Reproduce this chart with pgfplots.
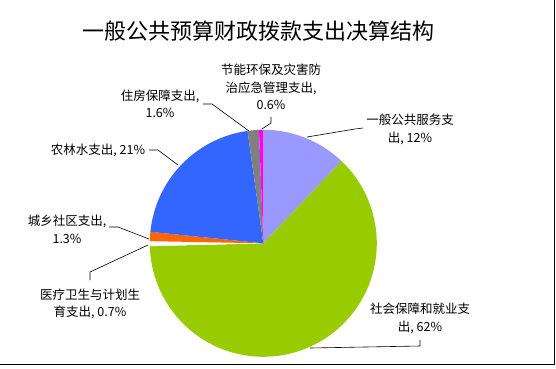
\documentclass[border=0pt]{standalone}
\usepackage{pgfplots}
\pgfplotsset{compat=1.18}
\usepackage{fontspec}
\setmainfont{Noto Sans CJK SC}
\definecolor{cPurple}{HTML}{9999FF}
\definecolor{cGreen}{HTML}{99CC00}
\definecolor{cWhite}{HTML}{FFFFFF}
\definecolor{cOrange}{HTML}{FF6600}
\definecolor{cBlue}{HTML}{3366FF}
\definecolor{cGray}{HTML}{808080}
\definecolor{cMag}{HTML}{FF00FF}
% pie geometry (picture units = pt, y downward)
\def\cx{263.3}\def\cy{243.3}\def\rr{113.5}
\def\total{99.2}
\gdef\cum{0}
\newcommand\pieslice[2]{%
  \pgfmathsetmacro\sa{-90+\cum/\total*360}%
  \pgfmathsetmacro\sb{-90+(\cum+#1)/\total*360}%
  \edef\temp{\noexpand\addplot[fill=#2, draw=none, domain=\sa:\sb, samples=80]
    ({\cx+\rr*cos(x)},{\cy+\rr*sin(x)}) -- (axis cs:\cx,\cy) -- cycle;}%
  \temp
  \pgfmathsetmacro\newcum{\cum+#1}%
  \xdef\cum{\newcum}%
}
\begin{document}
\begin{tikzpicture}
\begin{axis}[
  width=556pt, height=368pt, scale only axis,
  xmin=0, xmax=556, ymin=0, ymax=368, y dir=reverse,
  hide axis, clip=false,
]
\pieslice{12}{cPurple}
\pieslice{62}{cGreen}
\pieslice{0.7}{cWhite}
\pieslice{1.3}{cOrange}
\pieslice{21}{cBlue}
\pieslice{1.6}{cGray}
\pieslice{0.6}{cMag}
% leader lines
\addplot[black, line width=0.6pt] coordinates {(262,129) (271,123) (271,117)};
\addplot[black, line width=0.6pt] coordinates {(203,104) (212,104) (249,131)};
\addplot[black, line width=0.6pt] coordinates {(149,150) (158,150) (178,165)};
\addplot[black, line width=0.6pt] coordinates {(109,227) (118,227) (149,239)};
\addplot[black, line width=0.6pt] coordinates {(90,280) (90,272) (148,245)};
\addplot[black, line width=0.6pt] coordinates {(307,137) (355,129) (363,128)};
\addplot[black, line width=0.6pt] coordinates {(310,348) (420,346) (420,340)};
% frame
\addplot[black, line width=1.2pt] coordinates {(0,364.7) (554.3,364.7) (554.3,0)};
% labels
\node[inner sep=0pt, font=\fontsize{22}{26}\selectfont] at (axis cs:258,31) {一般公共预算财政拨款支出决算结构};
\begin{scope}[every node/.style={inner sep=0pt, align=center, font=\fontsize{12.5}{17.5}\selectfont}]
\node at (axis cs:271,87) {节能环保及灾害防\\治应急管理支出,\\0.6\%};
\node at (axis cs:160,104) {住房保障支出,\\1.6\%};
\node at (axis cs:98,150) {农林水支出, 21\%};
\node at (axis cs:67,229.5) {城乡社区支出,\\1.3\%};
\node at (axis cs:90,304) {医疗卫生与计划生\\育支出, 0.7\%};
\node at (axis cs:410,129.5) {一般公共服务支\\出, 12\%};
\node at (axis cs:420,318.5) {社会保障和就业支\\出, 62\%};
\end{scope}
\coordinate (SW) at (rel axis cs:0,0);
\coordinate (NE) at (rel axis cs:1,1);
\end{axis}
\pgfresetboundingbox
\path (SW) rectangle (NE);
\end{tikzpicture}
\end{document}
